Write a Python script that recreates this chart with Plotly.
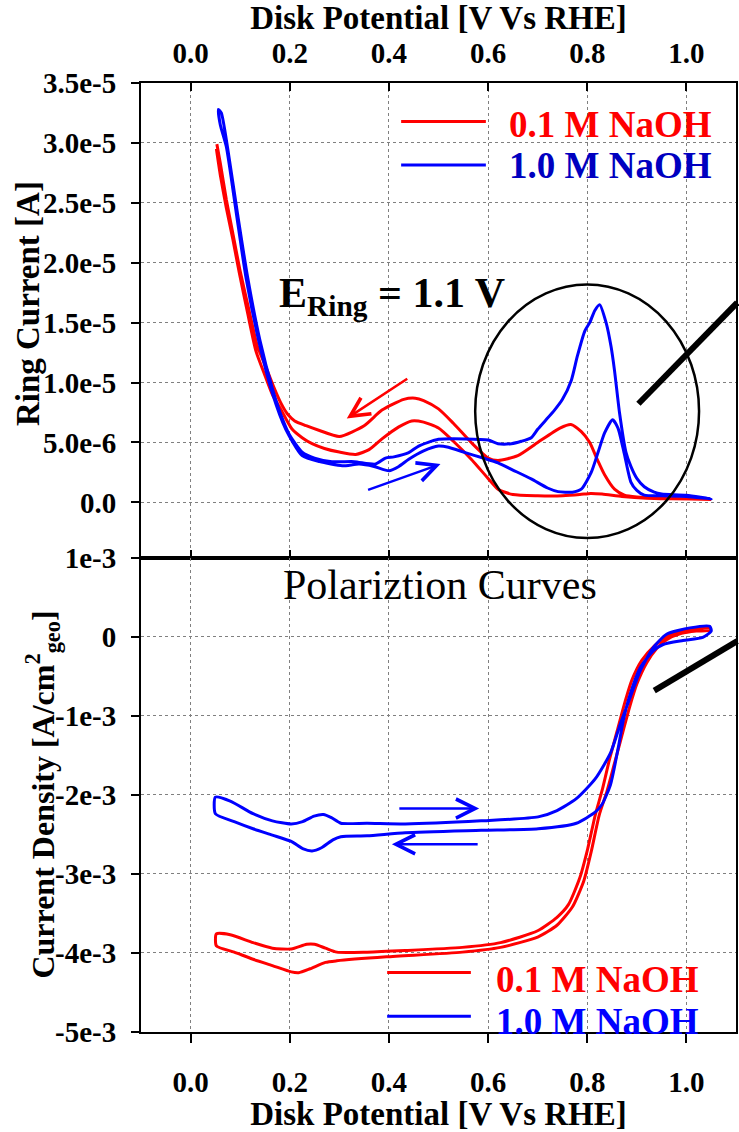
import plotly.graph_objects as go

# ---------------- data ----------------
# Top panel: ring current (read in microampere, converted to A), one closed CV loop per electrolyte
ring_red_x = [0.052, 0.06, 0.072, 0.085, 0.098, 0.115, 0.132, 0.15, 0.165, 0.18, 0.192, 0.205, 0.225, 0.245, 0.27,
              0.30, 0.333, 0.36, 0.386, 0.42, 0.446, 0.47, 0.50, 0.53, 0.566, 0.60, 0.62, 0.65, 0.70, 0.75, 0.785,
              0.807, 0.83, 0.87, 0.92, 0.97, 1.05,
              1.0, 0.95, 0.90, 0.875, 0.855, 0.835, 0.821, 0.805, 0.788, 0.767, 0.745, 0.70, 0.66, 0.62, 0.60,
              0.566, 0.53, 0.50, 0.47, 0.453, 0.43, 0.386, 0.35, 0.30, 0.26, 0.233, 0.21, 0.195, 0.182, 0.168,
              0.15, 0.135, 0.118, 0.10, 0.085, 0.072, 0.06, 0.053]
ring_red_uA = [29.5, 27.3, 24.6, 22.0, 19.2, 15.8, 12.6, 10.6, 9.0, 7.9, 7.0, 6.1, 5.4, 4.9, 4.5,
               4.2, 4.0, 4.4, 5.3, 6.3, 6.8, 6.7, 6.2, 5.1, 3.6, 2.0, 1.1, 0.65, 0.55, 0.55, 0.65,
               0.75, 0.7, 0.5, 0.35, 0.3, 0.25,
               0.3, 0.35, 0.45, 0.6, 1.1, 2.3, 3.5, 5.0, 5.9, 6.5, 6.2, 5.0, 3.9, 3.5, 3.7,
               5.0, 6.6, 7.8, 8.5, 8.7, 8.6, 7.7, 6.4, 5.5, 6.0, 6.4, 6.8, 7.4, 8.3, 9.6,
               11.5, 13.0, 16.0, 19.3, 22.5, 25.3, 28.3, 29.9]

ring_blue_x = [0.056, 0.06, 0.072, 0.092, 0.112, 0.139, 0.165, 0.192, 0.225, 0.26, 0.306, 0.34, 0.37, 0.40,
               0.42, 0.44, 0.47, 0.50, 0.52, 0.554, 0.59, 0.62, 0.65, 0.687, 0.72, 0.741, 0.77, 0.788, 0.808,
               0.822, 0.835, 0.851, 0.862, 0.875, 0.888, 0.90, 0.915, 0.95, 1.0, 1.05,
               1.0, 0.95, 0.935, 0.915, 0.90, 0.888, 0.878, 0.865, 0.855, 0.848, 0.838, 0.825, 0.815, 0.805,
               0.795, 0.78, 0.768, 0.75, 0.734, 0.715, 0.70, 0.687, 0.667, 0.647, 0.62, 0.60, 0.554, 0.50,
               0.46, 0.44, 0.41, 0.393, 0.373, 0.33, 0.285, 0.25, 0.225, 0.20, 0.185, 0.165, 0.14, 0.115,
               0.095, 0.075, 0.062, 0.056]
ring_blue_uA = [32.8, 31.5, 29.7, 24.2, 18.7, 13.2, 9.1, 6.1, 3.9, 3.4, 3.05, 3.2, 3.0, 2.64,
                3.0, 3.6, 4.3, 4.7, 4.6, 4.15, 3.7, 3.3, 2.7, 1.96, 1.2, 0.9, 0.85, 1.1, 2.5,
                4.2, 5.8, 6.9, 6.2, 4.0, 1.7, 1.0, 0.6, 0.55, 0.5, 0.3,
                0.6, 0.7, 0.85, 1.3, 2.0, 3.0, 4.2, 7.5, 11.0, 13.0, 15.0, 16.5, 16.0, 15.0,
                14.3, 12.2, 10.2, 8.6, 7.7, 6.8, 6.1, 5.4, 5.1, 4.9, 4.9, 5.2, 5.3, 5.26,
                4.7, 4.15, 3.8, 3.7, 3.2, 3.4, 3.4, 3.7, 4.2, 5.6, 7.0, 9.5, 13.5, 18.8,
                24.0, 29.5, 32.5, 32.8]

# Bottom panel: disk current density (read in mA/cm2, converted to A/cm2)
disk_red_x = [0.052, 0.08, 0.126, 0.165, 0.203, 0.234, 0.25, 0.272, 0.295, 0.356, 0.433, 0.548, 0.625, 0.70,
              0.739, 0.762, 0.785, 0.801, 0.816, 0.831, 0.845, 0.86, 0.875, 0.89, 0.91, 0.935, 0.96, 0.99,
              1.02, 1.048,
              1.048, 1.02, 0.99, 0.96, 0.94, 0.92, 0.90, 0.885, 0.87, 0.855, 0.84, 0.824, 0.808, 0.793, 0.77,
              0.739, 0.70, 0.625, 0.548, 0.395, 0.295, 0.272, 0.241, 0.218, 0.203, 0.165, 0.126, 0.088,
              0.052, 0.052]
disk_red_mA = [-3.76, -3.77, -3.87, -3.94, -3.95, -3.89, -3.89, -3.94, -3.99, -3.99, -3.97, -3.93, -3.87, -3.72,
               -3.55, -3.39, -3.05, -2.68, -2.26, -1.92, -1.55, -1.2, -0.85, -0.55, -0.3, -0.12, 0.0, 0.07,
               0.1, 0.11,
               0.08, 0.07, 0.04, -0.04, -0.15, -0.33, -0.6, -0.9, -1.25, -1.6, -1.95, -2.26, -2.72, -3.09, -3.42,
               -3.65, -3.80, -3.93, -3.99, -4.05, -4.10, -4.12, -4.20, -4.25, -4.24, -4.16, -4.08, -3.99,
               -3.91, -3.76]

disk_blue_x = [0.05, 0.08, 0.126, 0.165, 0.203, 0.226, 0.249, 0.268, 0.284, 0.303, 0.356, 0.433, 0.586, 0.701,
               0.739, 0.778, 0.816, 0.847, 0.867, 0.887, 0.907, 0.933, 0.96, 1.007, 1.047, 1.05,
               1.033, 0.993, 0.953, 0.933, 0.907, 0.887, 0.873, 0.863, 0.847, 0.83, 0.816, 0.778, 0.701,
               0.586, 0.433, 0.356, 0.303, 0.287, 0.264, 0.245, 0.226, 0.203, 0.165, 0.126, 0.088, 0.05, 0.05]
disk_blue_mA = [-2.03, -2.08, -2.24, -2.33, -2.37, -2.34, -2.27, -2.25, -2.29, -2.36, -2.36, -2.37, -2.33, -2.28,
                -2.20, -2.05, -1.80, -1.47, -1.10, -0.76, -0.43, -0.14, 0.03, 0.11, 0.13, 0.07,
                -0.01, -0.05, -0.10, -0.18, -0.39, -0.72, -1.05, -1.39, -1.87, -2.12, -2.22, -2.36, -2.43,
                -2.45, -2.48, -2.52, -2.53, -2.57, -2.67, -2.71, -2.68, -2.59, -2.51, -2.43, -2.34, -2.24, -2.03]

x_tickvals = [0.0, 0.2, 0.4, 0.6, 0.8, 1.0]
x_ticktext = ["0.0", "0.2", "0.4", "0.6", "0.8", "1.0"]
ring_tickvals = [0.0, 5e-6, 1e-5, 1.5e-5, 2e-5, 2.5e-5, 3e-5, 3.5e-5]
ring_ticktext = ["0.0", "5.0e-6", "1.0e-5", "1.5e-5", "2.0e-5", "2.5e-5", "3.0e-5", "3.5e-5"]
disk_tickvals = [-5e-3, -4e-3, -3e-3, -2e-3, -1e-3, 0.0, 1e-3]
disk_ticktext = ["-5e-3", "-4e-3", "-3e-3", "-2e-3", "-1e-3", "0", "1e-3"]

series_names = ["0.1 M NaOH", "1.0 M NaOH"]

# ---------------- figure ----------------
RED = "#ff0000"
BLUE = "#0000ff"
FONT = "Liberation Serif"

fig = go.Figure()
curve = dict(shape="spline", smoothing=0.6, width=3)
fig.add_trace(go.Scatter(x=ring_red_x, y=[v * 1e-6 for v in ring_red_uA], mode="lines",
                         line=dict(color=RED, **curve), name=series_names[0], xaxis="x", yaxis="y",
                         showlegend=False))
fig.add_trace(go.Scatter(x=ring_blue_x, y=[v * 1e-6 for v in ring_blue_uA], mode="lines",
                         line=dict(color=BLUE, **curve), name=series_names[1], xaxis="x", yaxis="y",
                         showlegend=False))
fig.add_trace(go.Scatter(x=disk_red_x, y=[v * 1e-3 for v in disk_red_mA], mode="lines",
                         line=dict(color=RED, **curve), name=series_names[0], xaxis="x2", yaxis="y2",
                         showlegend=False))
fig.add_trace(go.Scatter(x=disk_blue_x, y=[v * 1e-3 for v in disk_blue_mA], mode="lines",
                         line=dict(color=BLUE, **curve), name=series_names[1], xaxis="x2", yaxis="y2",
                         showlegend=False))

tickfont = dict(family=FONT, size=29, color="black", weight="bold")
grid = dict(showgrid=True, gridcolor="#808080", griddash="dot", gridwidth=1, zeroline=False,
            showline=True, linecolor="black", linewidth=2)

fig.update_layout(
    width=739, height=1132,
    margin=dict(l=141, r=1, t=83, b=90),
    paper_bgcolor="white", plot_bgcolor="white",
    font=dict(family=FONT, color="black"),
    showlegend=False,
    xaxis=dict(domain=[0, 1], anchor="y", side="top", range=[-0.1, 1.1],
               tickvals=x_tickvals, ticktext=x_ticktext, ticks="inside", ticklen=8, tickwidth=1.5,
               tickcolor="black", mirror="ticks", tickfont=tickfont, ticklabelstandoff=6,
               title=dict(text="Disk Potential [V Vs RHE]",
                          font=dict(family=FONT, size=33, weight="bold"), standoff=12),
               **grid),
    yaxis=dict(domain=[0.5, 1], anchor="x", range=[-4.6e-6, 3.5e-5],
               tickvals=ring_tickvals, ticktext=ring_ticktext, ticks="outside", ticklen=8, tickwidth=1.5,
               tickcolor="black", mirror=True, tickfont=tickfont, ticklabelstandoff=9, **grid),
    xaxis2=dict(domain=[0, 1], anchor="y2", range=[-0.1, 1.1],
                tickvals=x_tickvals, ticktext=x_ticktext, ticks="outside", ticklen=9, tickwidth=1.5,
                tickcolor="black", mirror=True, tickfont=tickfont, ticklabelstandoff=14,
                title=dict(text="Disk Potential [V Vs RHE]",
                           font=dict(family=FONT, size=33, weight="bold"), standoff=10),
                **grid),
    yaxis2=dict(domain=[0, 0.5], anchor="x2", range=[-5e-3, 1e-3],
                tickvals=disk_tickvals, ticktext=disk_ticktext, ticks="outside", ticklen=8, tickwidth=1.5,
                tickcolor="black", mirror=True, tickfont=tickfont, ticklabelstandoff=9, **grid),
)

annotations = [
    # y-axis titles
    dict(text="<b>Ring Current [A]</b>", xref="paper", yref="paper", x=-0.19, y=0.768,
         textangle=-90, showarrow=False, xanchor="center", yanchor="middle",
         font=dict(family=FONT, size=33, color="black")),
    dict(text="<b>Current Density [A/cm<sup>2</sup><sub>geo</sub>]</b>", xref="paper", yref="paper",
         x=-0.165, y=0.25, textangle=-90, showarrow=False, xanchor="center", yanchor="middle",
         font=dict(family=FONT, size=32, color="black")),
    # panel texts
    dict(text="<b>E<sub>Ring</sub> = 1.1 V</b>", xref="paper", yref="paper", x=0.228, y=0.776,
         showarrow=False, xanchor="left", yanchor="middle", font=dict(family=FONT, size=42, color="black")),
    dict(text="Polariztion Curves", xref="paper", yref="paper", x=0.5025, y=0.4715,
         showarrow=False, xanchor="center", yanchor="middle", font=dict(family=FONT, size=42, color="black")),
    # legends (text)
    dict(text="<b>" + series_names[0] + "</b>", xref="paper", yref="paper", x=0.6147, y=0.9562,
         showarrow=False, xanchor="left", yanchor="middle", font=dict(family=FONT, size=37, color=RED)),
    dict(text="<b>" + series_names[1] + "</b>", xref="paper", yref="paper", x=0.6147, y=0.9135,
         showarrow=False, xanchor="left", yanchor="middle", font=dict(family=FONT, size=37, color="#0000c0")),
    dict(text="<b>" + series_names[0] + "</b>", xref="paper", yref="paper", x=0.593, y=0.0555,
         showarrow=False, xanchor="left", yanchor="middle", font=dict(family=FONT, size=37, color=RED)),
    dict(text="<b>" + series_names[1] + "</b>", xref="paper", yref="paper", x=0.593, y=0.0106,
         showarrow=False, xanchor="left", yanchor="middle", font=dict(family=FONT, size=37, color=BLUE)),
]

# sweep-direction arrows
arrow_style = dict(showarrow=True, text="", arrowhead=5, arrowsize=1.5, arrowwidth=2.5)
annotations += [
    dict(xref="x", yref="y", axref="x", ayref="y", x=0.315, y=7.0e-6, ax=0.44, ay=10.4e-6,
         arrowcolor=RED, **arrow_style),
    dict(xref="x", yref="y", axref="x", ayref="y", x=0.504, y=3.2e-6, ax=0.355, ay=1.0e-6,
         arrowcolor=BLUE, **arrow_style),
    dict(xref="x2", yref="y2", axref="x2", ayref="y2", x=0.582, y=-2.175e-3, ax=0.418, ay=-2.175e-3,
         arrowcolor=BLUE, **arrow_style),
    dict(xref="x2", yref="y2", axref="x2", ayref="y2", x=0.406, y=-2.626e-3, ax=0.582, ay=-2.626e-3,
         arrowcolor=BLUE, **arrow_style),
]
fig.update_layout(annotations=annotations)

shapes = [
    # highlight ellipse around the ring-current peaks
    dict(type="circle", xref="x", yref="y", x0=0.574, x1=1.0255, y0=-2.97e-6, y1=18.19e-6,
         line=dict(color="black", width=2.5)),
    # thick pointer lines
    dict(type="line", xref="paper", yref="paper", x0=0.836, y0=0.662, x1=1.002, y1=0.7685,
         line=dict(color="black", width=6)),
    dict(type="line", xref="paper", yref="paper", x0=0.8626, y0=0.3597, x1=1.002, y1=0.4119,
         line=dict(color="black", width=6)),
    # legend sample lines
    dict(type="line", xref="paper", yref="paper", x0=0.4372, x1=0.5796, y0=0.9593, y1=0.9593,
         line=dict(color=RED, width=3)),
    dict(type="line", xref="paper", yref="paper", x0=0.4372, x1=0.5796, y0=0.9135, y1=0.9135,
         line=dict(color=BLUE, width=3)),
    dict(type="line", xref="paper", yref="paper", x0=0.4137, x1=0.5544, y0=0.0626, y1=0.0626,
         line=dict(color=RED, width=3)),
    dict(type="line", xref="paper", yref="paper", x0=0.4137, x1=0.5544, y0=0.0167, y1=0.0167,
         line=dict(color=BLUE, width=3)),
]
fig.update_layout(shapes=shapes)

fig.write_html("out.html")
